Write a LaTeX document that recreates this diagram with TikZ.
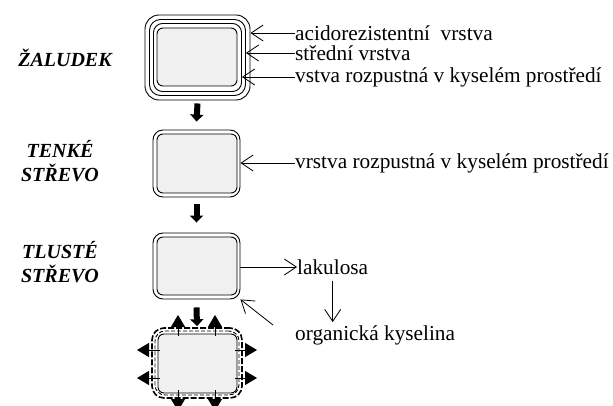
\documentclass[tikz,border=0pt]{standalone}
\usepackage{fontspec}
\setmainfont{Liberation Serif}
\usetikzlibrary{arrows.meta}

\begin{document}
\begin{tikzpicture}[x=1pt, y=-1pt,
    barb/.style={line width=0.8pt, -{Straight Barb[length=12pt, width=16pt]}},
    fat/.style={line width=6pt, -{Triangle[length=7pt, width=13pt]}},
    spike/.style={line width=0.8pt, -{Triangle[length=12pt, width=14pt]}},
    wall/.style={draw, line width=0.9pt, rounded corners=#1, inner sep=0pt},
    core/.style={draw, line width=0.9pt, fill=gray!12, rounded corners=6pt, inner sep=0pt},
    organ/.style={font=\fontsize{20}{24}\selectfont\bfseries\itshape, align=center},
    lbl/.style={font=\fontsize{21.3}{24}\selectfont, anchor=west, inner sep=0pt}]
    \useasboundingbox (0,0) rectangle (613,406);

    % zaludek
    \node[wall=14pt, minimum width=105pt, minimum height=85pt] (zal1) at (197.5,57.5) {};
    \node[wall=11pt, minimum width=96pt, minimum height=76pt] (zal2) at (197.5,57.5) {};
    \node[wall=9pt, minimum width=88pt, minimum height=68pt] (zal3) at (197.5,57.5) {};
    \node[core, minimum width=80pt, minimum height=58pt] (zalc) at (197,57) {};
    \node[organ] (zaludek) at (65,58) {ŽALUDEK};

    % tenke strevo
    \node[wall=10pt, minimum width=87pt, minimum height=67pt] (ten1) at (196.5,163.5) {};
    \node[core, minimum width=80pt, minimum height=59pt] (tenc) at (197,163.5) {};
    \node[organ] (tenke) at (60,161) {TENKÉ\\STŘEVO};

    % tluste strevo
    \node[wall=10pt, minimum width=87pt, minimum height=66pt] (tl1) at (196.5,266) {};
    \node[core, minimum width=80pt, minimum height=58pt] (tlc) at (197,266) {};
    \node[organ] (tluste) at (60,262) {TLUSTÉ\\STŘEVO};

    % vstrebavani
    \node[wall=12pt, line width=1.6pt, dash pattern=on 6pt off 2pt, minimum width=90pt, minimum height=70pt] (bot1) at (197,363) {};
    \node[wall=10pt, dash pattern=on 4pt off 2pt, minimum width=84pt, minimum height=64pt] (bot2) at (197,363) {};
    \node[core, minimum width=79pt, minimum height=59pt] (botc) at (197.5,363.5) {};

    \draw[fat] ([yshift=-3pt]zal1.south) -- ([yshift=8pt]ten1.north);
    \draw[fat] ([yshift=-7pt]ten1.south) -- ([yshift=10pt]tl1.north);
    \draw[fat] ([yshift=-8pt]tl1.south) -- ([yshift=1pt]bot1.north);

    \foreach \x in {178,215} {
        \draw[spike] (\x,336) -- (\x,315);
        \draw[spike] (\x,390) -- (\x,411);
    }
    \foreach \y in {350,378} {
        \draw[spike] (160,\y) -- (137,\y);
        \draw[spike] (235,\y) -- (257,\y);
    }

    % popisky
    \node[lbl] (acid) at (295,33) {acidorezistentní\ \ vrstva};
    \node[lbl] (stred) at (295,53) {střední vrstva};
    \node[lbl] (vstva) at (295,77) {vstva rozpustná v kyselém prostředí};
    \draw[barb] (acid.west) -- (zal1.east |- acid.west);
    \draw[barb] (stred.west) -- (zal2.east |- stred.west);
    \draw[barb] (vstva.west) -- (zal3.east |- vstva.west);

    \node[lbl] (vrstva) at (295,163) {vrstva rozpustná v kyselém prostředí};
    \draw[barb] (vrstva.west) -- (ten1.east |- vrstva.west);

    \node[lbl] (lak) at (297,267) {lakulosa};
    \node[lbl] (org) at (295,335) {organická kyselina};
    \coordinate (orgtail) at (273,325);
    \draw[barb] (tl1.east |- lak.west) -- (lak.west);
    \draw[barb] ([yshift=-6pt]lak.south) -- ([yshift=3pt]org.north -| lak.south);
    \draw[barb] (orgtail) -- (tl1.south east);
\end{tikzpicture}
\end{document}
